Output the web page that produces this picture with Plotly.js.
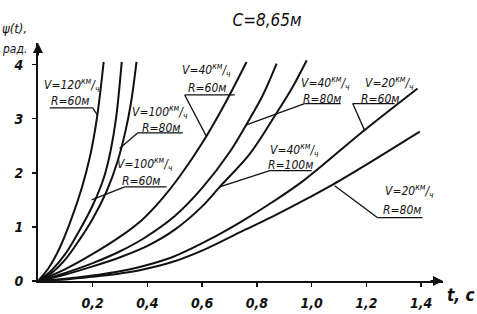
<!DOCTYPE html>
<html><head><meta charset="utf-8">
<script src="https://cdn.plot.ly/plotly-3.0.1.min.js"></script>
<style>html,body{margin:0;padding:0;background:#fff}#chart{width:477px;height:314px}</style>
</head><body><div id="chart"></div>
<script>
// Data: t (s) and psi(t) (rad)
const t_v120_r60 = [0, 0.04, 0.08, 0.12, 0.16, 0.19, 0.215, 0.24];
const psi_v120_r60 = [0, 0.25, 0.62, 1.12, 1.72, 2.3, 3.0, 4.05];
const t_v100_r60 = [0, 0.05, 0.1, 0.15, 0.2, 0.24, 0.265, 0.285, 0.306];
const psi_v100_r60 = [0, 0.2, 0.5, 0.92, 1.4, 1.9, 2.4, 3.0, 4.05];
const t_v100_r80 = [0, 0.05, 0.1, 0.15, 0.2, 0.25, 0.29, 0.32, 0.34, 0.36];
const psi_v100_r80 = [0, 0.15, 0.4, 0.75, 1.15, 1.65, 2.2, 2.78, 3.3, 4.05];
const t_v40_r60 = [0, 0.1, 0.2, 0.3, 0.38, 0.45, 0.52, 0.6, 0.68, 0.762];
const psi_v40_r60 = [0, 0.22, 0.5, 0.82, 1.13, 1.5, 1.95, 2.55, 3.25, 4.05];
const t_v40_r80 = [0, 0.1, 0.2, 0.3, 0.39, 0.5, 0.6, 0.7, 0.76, 0.82, 0.872];
const psi_v40_r80 = [0, 0.15, 0.33, 0.55, 0.8, 1.2, 1.72, 2.38, 2.88, 3.42, 4.02];
const t_v40_r100 = [0, 0.1, 0.2, 0.3, 0.4, 0.5, 0.6, 0.664, 0.774, 0.865, 0.93, 0.982];
const psi_v40_r100 = [0, 0.12, 0.27, 0.44, 0.65, 0.95, 1.38, 1.74, 2.35, 3.05, 3.58, 4.08];
const t_v20_r60 = [0, 0.1, 0.2, 0.3, 0.372, 0.49, 0.616, 0.737, 0.857, 0.974, 1.186, 1.387];
const psi_v20_r60 = [0, 0.04, 0.1, 0.18, 0.26, 0.44, 0.74, 1.08, 1.46, 1.87, 2.76, 3.56];
const t_v20_r80 = [0, 0.1, 0.2, 0.3, 0.372, 0.49, 0.616, 0.737, 0.857, 0.99, 1.077, 1.2, 1.395];
const psi_v20_r80 = [0, 0.03, 0.08, 0.14, 0.2, 0.35, 0.6, 0.9, 1.19, 1.54, 1.78, 2.15, 2.76];

const speeds = ['120', '100', '100', '40', '40', '40', '20', '20'];
const radii = ['60', '60', '80', '60', '80', '100', '60', '80'];
const xTickVals = [0.2, 0.4, 0.6, 0.8, 1.0, 1.2, 1.4];
const xTickText = ['0,2', '0,4', '0,6', '0,8', '1,0', '1,2', '1,4'];
const yTickVals = [0, 1, 2, 3, 4];
const yTickText = ['0', '1', '2', '3', '4'];
const titleText = 'C=8,65м';

const series = [
  [t_v120_r60, psi_v120_r60], [t_v100_r60, psi_v100_r60], [t_v100_r80, psi_v100_r80],
  [t_v40_r60, psi_v40_r60], [t_v40_r80, psi_v40_r80], [t_v40_r100, psi_v40_r100],
  [t_v20_r60, psi_v20_r60], [t_v20_r80, psi_v20_r80]
];
const traces = series.map((s, i) => ({
  x: s[0], y: s[1], type: 'scatter', mode: 'lines',
  name: 'V=' + speeds[i] + ' R=' + radii[i],
  line: {color: '#111', width: 2, shape: 'spline', smoothing: 1},
  hoverinfo: 'skip'
}));

const FONT = "'DejaVu Sans Condensed', 'DejaVu Sans', sans-serif";
// label placement: line1 / line2 centres, underline, pointer to the curve
const labelPos = [
  {l1: [0.123, 3.62], l2: [0.116, 3.33], u: [0.043, 0.20, 3.20], p: [0.20, 3.20, 0.218, 3.06]},
  {l1: [0.39, 2.16], l2: [0.376, 1.85], u: [0.317, 0.470, 1.74], p: [0.317, 1.74, 0.196, 1.5]},
  {l1: [0.444, 3.12], l2: [0.448, 2.83], u: [0.365, 0.529, 2.74], p: [0.365, 2.74, 0.298, 2.45]},
  {l1: [0.617, 3.90], l2: [0.617, 3.57], u: [0.536, 0.719, 3.44], p: [0.536, 3.44, 0.616, 2.67]},
  {l1: [1.051, 3.66], l2: [1.036, 3.37], u: [0.974, 1.106, 3.28], p: [0.974, 3.28, 0.759, 2.88]},
  {l1: [0.938, 2.43], l2: [0.923, 2.14], u: [0.847, 1.0, 2.04], p: [0.847, 2.04, 0.664, 1.74]},
  {l1: [1.285, 3.66], l2: [1.248, 3.37], u: [1.150, 1.303, 3.28], p: [1.150, 3.28, 1.194, 2.78]},
  {l1: [1.358, 1.66], l2: [1.329, 1.31], u: [1.241, 1.405, 1.17], p: [1.241, 1.17, 1.084, 1.76]}
];

const annotations = [];
const shapes = [];
const labFont = {family: FONT, size: 12, style: 'italic', color: '#111'};
labelPos.forEach((lp, i) => {
  annotations.push({x: lp.l1[0], y: lp.l1[1], xref: 'x', yref: 'y', showarrow: false,
    text: 'V=' + speeds[i] + '<sup>км</sup>/<sub>ч</sub>', xanchor: 'center', yanchor: 'middle', font: labFont});
  annotations.push({x: lp.l2[0], y: lp.l2[1], xref: 'x', yref: 'y', showarrow: false,
    text: 'R=' + radii[i] + 'м', xanchor: 'center', yanchor: 'middle', font: labFont});
  shapes.push({type: 'line', xref: 'x', yref: 'y', x0: lp.u[0], x1: lp.u[1], y0: lp.u[2], y1: lp.u[2],
    line: {color: '#111', width: 1.3}});
  shapes.push({type: 'line', xref: 'x', yref: 'y', x0: lp.p[0], y0: lp.p[1], x1: lp.p[2], y1: lp.p[3],
    line: {color: '#111', width: 1.3}});
});
// axis arrows
annotations.push({x: 1.48, y: 0, xref: 'x', yref: 'y', ax: -14, ay: 0, text: '', showarrow: true,
  arrowhead: 2, arrowsize: 1, arrowwidth: 2, arrowcolor: '#111'});
annotations.push({x: 0, y: 4.4, xref: 'x', yref: 'y', ax: 0, ay: 14, text: '', showarrow: true,
  arrowhead: 2, arrowsize: 1, arrowwidth: 2, arrowcolor: '#111'});
// axis titles
annotations.push({x: -38 / 405, y: (281 - 29) / 238, xref: 'paper', yref: 'paper', xanchor: 'left', yanchor: 'middle',
  showarrow: false, text: 'ψ(t),', font: {family: FONT, size: 13, style: 'italic', color: '#111'}});
annotations.push({x: -38 / 405, y: (281 - 49) / 238, xref: 'paper', yref: 'paper', xanchor: 'left', yanchor: 'middle',
  showarrow: false, text: 'рад.', font: {family: FONT, size: 12, style: 'italic', color: '#111'}});
annotations.push({x: (461 - 38) / 405, y: (281 - 295) / 238, xref: 'paper', yref: 'paper', xanchor: 'center', yanchor: 'middle',
  showarrow: false, text: 't, c', font: {family: FONT, size: 17, style: 'italic', weight: 'bold', color: '#111'}});

const tickFont = {family: FONT, size: 14, style: 'italic', weight: 'bold', color: '#111'};
const layout = {
  width: 477, height: 314,
  margin: {l: 38, r: 34, t: 43, b: 33},
  paper_bgcolor: '#fff', plot_bgcolor: '#fff',
  showlegend: false,
  title: {text: titleText, x: 267 / 477, xref: 'container', xanchor: 'center', y: 1 - 20 / 314, yref: 'container', yanchor: 'middle',
    font: {family: FONT, size: 17, style: 'italic', color: '#111'}},
  xaxis: {range: [0, 1.48], showline: true, linewidth: 2, linecolor: '#111', showgrid: false, zeroline: false,
    ticks: 'outside', ticklen: 4, tickwidth: 1.5, tickcolor: '#111', tickvals: xTickVals, ticktext: xTickText,
    tickfont: tickFont, ticklabelstandoff: 4, fixedrange: true},
  yaxis: {range: [0, 4.4], showline: true, linewidth: 2, linecolor: '#111', showgrid: false, zeroline: false,
    ticks: 'outside', ticklen: 4, tickwidth: 1.5, tickcolor: '#111', tickvals: yTickVals, ticktext: yTickText,
    tickfont: tickFont, ticklabelstandoff: 6, fixedrange: true},
  annotations: annotations,
  shapes: shapes
};
Plotly.newPlot('chart', traces, layout, {staticPlot: true, displayModeBar: false});
</script>
</body></html>
